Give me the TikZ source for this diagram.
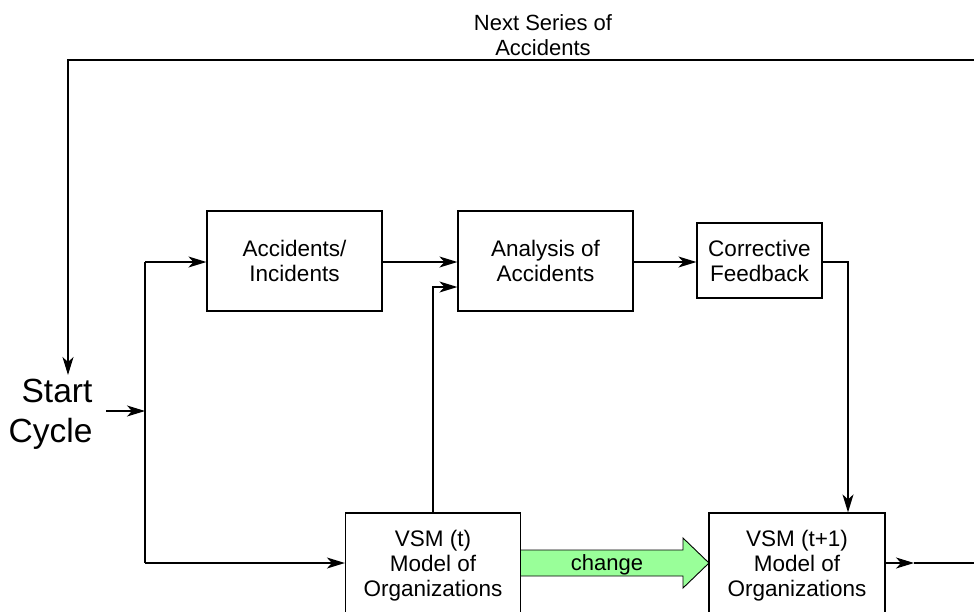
\documentclass[tikz,border=0pt]{standalone}
\usepackage{fontspec}
\setmainfont{Liberation Sans}
\usetikzlibrary{arrows.meta}
\definecolor{chgreen}{RGB}{153,255,153}
\begin{document}
\begin{tikzpicture}[x=1pt,y=-1pt,
  line width=1.2pt,
  box/.style={draw, line width=1.2pt, align=center, inner sep=0pt,
    font=\fontsize{22.5}{25}\selectfont},
  arr/.style={-{Stealth[length=18pt,width=11pt,inset=5pt]}},
  lbl/.style={align=center, inner sep=0pt, font=\fontsize{22}{25}\selectfont}]
\useasboundingbox (0,0) rectangle (974,611);
\clip (0,0) rectangle (974,611);
% boxes
\node[box, minimum width=175pt, minimum height=100pt] (acc) at (294.5,261) {Accidents/\\Incidents};
\node[box, minimum width=175pt, minimum height=100pt] (ana) at (545.5,261) {Analysis of\\Accidents};
\node[box, minimum width=125pt, minimum height=75pt] (cf) at (759.5,260.5) {Corrective\\Feedback};
\node[box, minimum width=175pt, minimum height=100pt, text depth=0pt] (v1) at (433,563) {VSM (t)\\Model of\\Organizations};
\node[box, minimum width=176pt, minimum height=100pt, text depth=0pt] (v2) at (797,563) {VSM (t+1)\\Model of\\Organizations};
% labels
\node[lbl] (next) at (543,35) {Next Series of\\Accidents};
\node[align=right, inner sep=0pt, anchor=east, font=\fontsize{33.5}{40}\selectfont] (start) at (93,414) {Start\\Cycle};
% coordinates
\coordinate (s0) at (106,411);
\coordinate (j) at (145,411);
\coordinate (jt) at (145,262);
\coordinate (jb) at (145,563);
\coordinate (tr) at (980,60);
\coordinate (tl) at (68,60);
\coordinate (st) at (68,375);
\coordinate (ra) at (914,563);
\coordinate (re) at (980,563);
% change arrow
\filldraw[fill=chgreen, line width=0.9pt] (520.5,550) -- (683,550) -- (683,538) -- (709,563) -- (683,588) -- (683,576) -- (520.5,576) -- cycle;
\node[lbl] (chg) at (607,565) {change};
% connectors
\draw[arr] (s0) -- (j);
\draw (jt) -- (jb);
\draw[arr] (jt) -- (acc.west |- jt);
\draw[arr] (jb) -- (v1.west |- jb);
\draw[arr] (acc.east |- jt) -- (ana.west |- jt);
\draw[arr] (v1.north) |- (ana.west |- 0,287);
\draw[arr] (ana.east |- jt) -- (cf.west |- jt);
\draw[arr] (cf.east |- jt) -| (v2.north -| 848,0);
\draw[arr] (v2.east) -- (ra);
\draw (ra) -- (re);
\draw[arr] (tr) -- (tl) -- (st);
\end{tikzpicture}
\end{document}
